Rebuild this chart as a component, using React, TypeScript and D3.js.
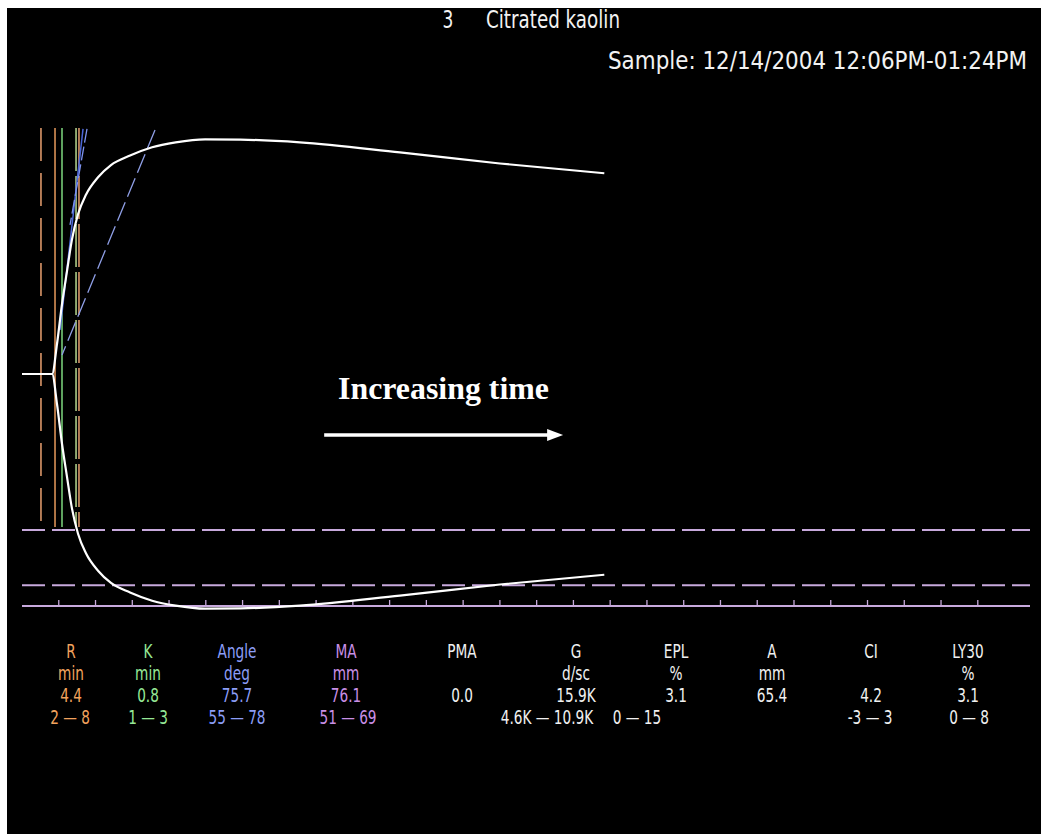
import React from "react";
import * as d3 from "d3";

// ---------- data ----------
// TEG trace: time in minutes, full amplitude in mm
const traceTime = [0, 4.1, 4.76, 5.44, 6.12, 6.8, 7.62, 8.7, 10.34, 12.1, 14.7, 17.7, 20.9, 24.9, 29.7, 37.8, 51.4, 65.0, 79.2];
const traceAmplitude = [0, 0, 9.8, 22.8, 33.6, 44, 52.2, 58.6, 64.3, 68.3, 71.4, 74.1, 75.7, 76.7, 76.6, 75.7, 72.4, 68.8, 65.6];

// vertical markers (minutes) and their kind
const markerTimes = [2.58, 4.49, 5.44, 7.35, 7.75];
const markerKinds = ["Rrange", "R", "K", "Krange", "Rrange2"];

// angle tangent lines: [t, mm] start and end
const angleLineStart = [[18.09, 79.7], [8.3, 80.1], [8.84, 80.1]];
const angleLineEnd = [[5.44, 6.2], [5.17, 14.4], [6.53, 48.7]];
const angleKinds = ["alpha", "tangent", "tangent2"];

// MA normal range (mm)
const maRange = [51, 69];

// time ticks (minutes)
const timeTicks = [5, 10, 15, 20, 25, 30, 35, 40, 45, 50, 55, 60, 65, 70, 75, 80, 85, 90, 95, 100, 105, 110, 115, 120, 125, 130];

// parameter table
const paramNames = ["R", "K", "Angle", "MA", "PMA", "G", "EPL", "A", "CI", "LY30"];
const paramUnits = ["min", "min", "deg", "mm", "", "d/sc", "%", "mm", "", "%"];
const paramValues = ["4.4", "0.8", "75.7", "76.1", "0.0", "15.9K", "3.1", "65.4", "4.2", "3.1"];
const paramRanges = ["2 — 8", "1 — 3", "55 — 78", "51 — 69", "", "4.6K — 10.9K", "0 — 15", "", "-3 — 3", "0 — 8"];

const titleNumber = "3";
const titleText = "Citrated kaolin";
const sampleText = "Sample: 12/14/2004 12:06PM-01:24PM";
const annotationText = "Increasing time";
// annotation arrow span in minutes
const arrowTimes = [41.1, 73.6];

// ---------- layout / styles ----------
const W = 1041;
const H = 834;
const centerY = 374;
const pxPerMM = 3.06;
const axisY = 606;
const axisX0 = 22;
const axisX1 = 1030;
const columnX = [71, 148, 237, 346, 462, 576, 676, 772, 871, 968];
const rangeX = [70, 148, 237, 348, 0, 547, 637, 0, 870, 969];
const rowY = [658, 680, 702, 724];
const paramColors = ["#f2a35e", "#96e896", "#8c9ef7", "#c98fe6", "#f0f0f0", "#f0f0f0", "#f0f0f0", "#f0f0f0", "#f0f0f0", "#f0f0f0"];
const narrow = "'Liberation Sans Narrow', 'Arial Narrow', 'DejaVu Sans Condensed', 'DejaVu Sans', sans-serif";
const lavender = "#c7a9dc";
const textScaleX = 0.76;
const tableFont = 20;

const markerStyle: Record<string, { color: string; dash?: string; width: number }> = {
  Rrange: { color: "#e8a070", dash: "33 12", width: 1.5 },
  R: { color: "#e89a5c", width: 1.5 },
  K: { color: "#7fd87f", width: 1.5 },
  Krange: { color: "#b8d890", dash: "43 5", width: 1.5 },
  Rrange2: { color: "#e8a070", dash: "43 5", width: 1.5 },
};
const angleStyle: Record<string, { color: string; dash?: string; width: number }> = {
  alpha: { color: "#8f9fe6", dash: "20 6", width: 1.3 },
  tangent: { color: "#4a66d8", width: 1.5 },
  tangent2: { color: "#7d93f0", dash: "14 4", width: 1.3 },
};

function NarrowText(props: { x: number; y: number; size: number; fill: string; anchor?: string; sx?: number; children: React.ReactNode }) {
  return (
    <text
      transform={`translate(${props.x},${props.y}) scale(${props.sx ?? textScaleX},1)`}
      fill={props.fill}
      fontFamily={narrow}
      fontSize={props.size}
      textAnchor={props.anchor || "middle"}
    >
      {props.children}
    </text>
  );
}

// text scaled horizontally so that it spans `width` pixels
function FitText(props: { x: number; y: number; size: number; width: number; sx: number; fill: string; children: string }) {
  return (
    <text
      transform={`translate(${props.x},${props.y}) scale(${props.sx},1)`}
      fill={props.fill}
      fontFamily={narrow}
      fontSize={props.size}
      textLength={props.width / props.sx}
      lengthAdjust="spacingAndGlyphs"
    >
      {props.children}
    </text>
  );
}

export default function App() {
  const x = d3.scaleLinear().domain([0, 137.1]).range([axisX0, axisX1]);
  const yUp = d3.scaleLinear().domain([0, 80]).range([centerY, centerY - 80 * pxPerMM]);
  const yLow = d3.scaleLinear().domain([0, 80]).range([centerY, centerY + 80 * pxPerMM]);

  const pts = traceTime.map((t, i) => ({ t, a: traceAmplitude[i] }));
  const upper = d3
    .line<{ t: number; a: number }>()
    .x((d) => x(d.t))
    .y((d) => yUp(d.a))
    .curve(d3.curveMonotoneX)(pts) as string;
  const lower = d3
    .line<{ t: number; a: number }>()
    .x((d) => x(d.t))
    .y((d) => yLow(d.a))
    .curve(d3.curveMonotoneX)(pts) as string;

  const markerTop = yUp(80.4);
  const markerBottom = yLow(maRange[0]) - 3;

  return (
    <svg
      width={W}
      height={H}
      style={{ position: "absolute", left: 0, top: 0, display: "block" }}
      xmlns="http://www.w3.org/2000/svg"
    >
      <rect x={0} y={0} width={W} height={H} fill="#ffffff" />
      <rect x={7} y={8} width={W - 7} height={H - 8} fill="#000000" />

      {/* titles */}
      <NarrowText x={448} y={28} size={25} fill="#f2f2f2">
        {titleNumber}
      </NarrowText>
      <FitText x={486} y={28} size={25} width={134} sx={0.73} fill="#f2f2f2">
        {titleText}
      </FitText>
      <FitText x={608} y={69} size={25} width={419} sx={0.86} fill="#f2f2f2">
        {sampleText}
      </FitText>

      {/* MA range dashed lines */}
      {maRange.map((m, i) => (
        <line key={"ma" + i} x1={axisX0} x2={axisX1} y1={yLow(m)} y2={yLow(m)} stroke={lavender} strokeWidth={2} strokeDasharray="23 7" />
      ))}

      {/* axis */}
      <line x1={axisX0} x2={axisX1} y1={axisY} y2={axisY} stroke={lavender} strokeWidth={2} />
      {timeTicks.map((t) => (
        <line key={"tk" + t} x1={x(t)} x2={x(t)} y1={axisY} y2={axisY - 6} stroke={lavender} strokeWidth={1.3} />
      ))}

      {/* vertical markers */}
      {markerTimes.map((t, i) => {
        const s = markerStyle[markerKinds[i]];
        return (
          <line
            key={"mk" + i}
            x1={x(t)}
            x2={x(t)}
            y1={markerTop}
            y2={markerBottom}
            stroke={s.color}
            strokeWidth={s.width}
            strokeDasharray={s.dash}
          />
        );
      })}

      {/* angle lines */}
      {angleLineStart.map((p, i) => {
        const s = angleStyle[angleKinds[i]];
        const e = angleLineEnd[i];
        return (
          <line
            key={"ang" + i}
            x1={x(p[0])}
            y1={yUp(p[1])}
            x2={x(e[0])}
            y2={yUp(e[1])}
            stroke={s.color}
            strokeWidth={s.width}
            strokeDasharray={s.dash}
          />
        );
      })}

      {/* trace */}
      <path d={upper} fill="none" stroke="#ffffff" strokeWidth={2.2} />
      <path d={lower} fill="none" stroke="#ffffff" strokeWidth={2.2} />

      {/* annotation */}
      <text x={338} y={399} fill="#ffffff" fontFamily="'Liberation Serif', 'Times New Roman', serif" fontWeight="bold" fontSize={31} textLength={211} lengthAdjust="spacingAndGlyphs">
        {annotationText}
      </text>
      <line x1={x(arrowTimes[0])} x2={x(arrowTimes[1]) - 14} y1={435} y2={435} stroke="#ffffff" strokeWidth={3.5} />
      <polygon
        points={`${x(arrowTimes[1])},435 ${x(arrowTimes[1]) - 16},429 ${x(arrowTimes[1]) - 16},441`}
        fill="#ffffff"
      />

      {/* parameter table */}
      {paramNames.map((n, i) => (
        <g key={"col" + i}>
          <NarrowText x={columnX[i]} y={rowY[0]} size={tableFont} fill={paramColors[i]}>{n}</NarrowText>
          {paramUnits[i] && (
            <NarrowText x={columnX[i]} y={rowY[1]} size={tableFont} fill={paramColors[i]}>{paramUnits[i]}</NarrowText>
          )}
          <NarrowText x={columnX[i]} y={rowY[2]} size={tableFont} fill={paramColors[i]}>{paramValues[i]}</NarrowText>
          {paramRanges[i] && (
            <NarrowText x={rangeX[i]} y={rowY[3]} size={tableFont} fill={paramColors[i]}>{paramRanges[i]}</NarrowText>
          )}
        </g>
      ))}
    </svg>
  );
}
